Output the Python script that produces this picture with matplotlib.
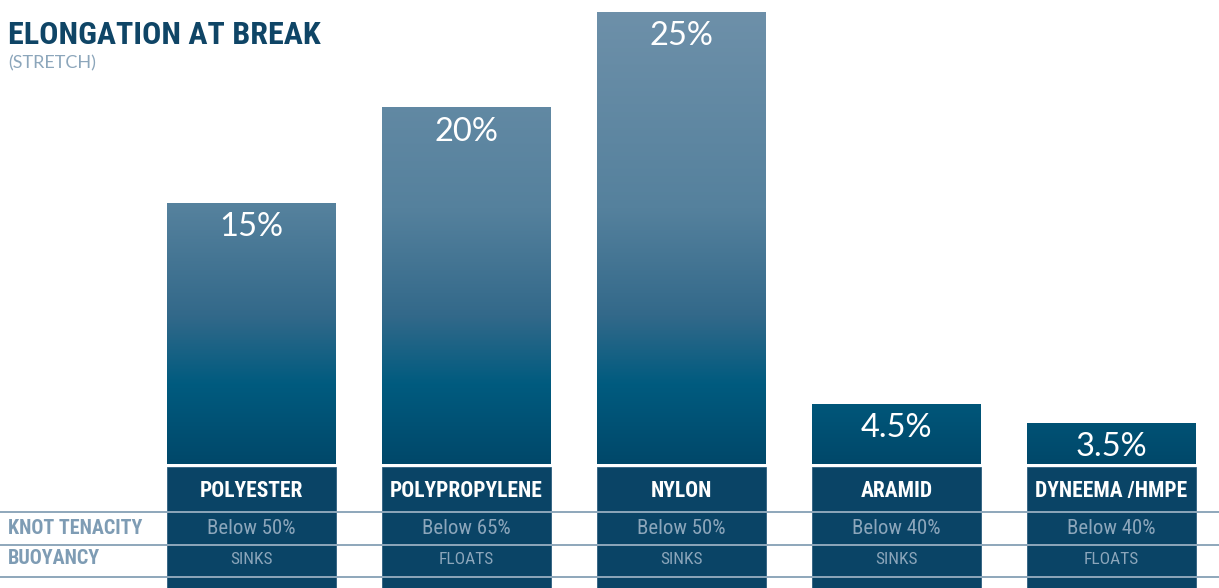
import matplotlib
matplotlib.use("Agg")
from matplotlib import pyplot as plt
from matplotlib.colors import LinearSegmentedColormap
import numpy as np

# data
materials = ['POLYESTER', 'POLYPROPYLENE', 'NYLON', 'ARAMID', 'DYNEEMA /HMPE']
elongation = [15, 20, 25, 4.5, 3.5]
value_labels = ['15%', '20%', '25%', '4.5%', '3.5%']
knot_tenacity = ['Below 50%', 'Below 65%', 'Below 50%', 'Below 40%', 'Below 40%']
buoyancy = ['SINKS', 'FLOATS', 'SINKS', 'SINKS', 'FLOATS']
row_names = ['KNOT TENACITY', 'BUOYANCY']

narrow = ['Liberation Sans Narrow', 'Roboto Condensed', 'DejaVu Sans']
light = ['Lato', 'DejaVu Sans']

title_color = '#0f4566'
pale = '#8ca6bb'
box_color = '#0a4466'
line_color = '#8ea7bb'

W, H = 1219, 588
fig = plt.figure(figsize=(W / 100, H / 100), dpi=100)

x = np.arange(len(materials))
pitch = 215.0
x0 = -251.5 / pitch
xlim = (x0, x0 + W / pitch)
bar_w = 169 / pitch

# main bar axes: bottom edge of bars at y=464px, top of figure at 0px
ax = fig.add_axes([0, (H - 464) / H, 1, 464 / H])
px_per_unit = 19.1
base = 1.335
ax.set_xlim(*xlim)
ax.set_ylim(base, base + 464 / px_per_unit)
ax.axis('off')

grad = LinearSegmentedColormap.from_list('g', [
    (0.0, '#00486a'),
    (0.17, '#005b7f'),
    (0.32, '#33698a'),
    (0.55, '#55819d'),
    (1.0, '#6f91aa'),
])
ylo, yhi = ax.get_ylim()
g = np.linspace(0, 1, 256).reshape(-1, 1)

bars = ax.bar(x, elongation, width=bar_w, color='none', edgecolor='none')
for b in bars:
    im = ax.imshow(g, cmap=grad, origin='lower', aspect='auto',
                   extent=(xlim[0], xlim[1], ylo, yhi), zorder=1)
    im.set_clip_path(b)
ax.set_xlim(*xlim)
ax.set_ylim(ylo, yhi)

for i, v in enumerate(elongation):
    ax.annotate(value_labels[i], (x[i], v), xytext=(0, -6.5), textcoords='offset points',
                ha='center', va='top', color='white', fontsize=23.5,
                family=light, zorder=3)

# table axes below bars (pixel units from y=467)
ax2 = fig.add_axes([0, 0, 1, (H - 467) / H])
ax2.set_xlim(*xlim)
ax2.set_ylim(121, 0)
ax2.axis('off')
ax2.bar(x, 121, bottom=0, width=bar_w, color=box_color, edgecolor='#2f5f7f', linewidth=0.6, zorder=1)
for yl in [45, 78, 110]:
    ax2.axhline(yl, color=line_color, lw=1.4, zorder=2)

for i in range(len(materials)):
    ax2.text(x[i], 24, materials[i], ha='center', va='center', color='white',
             fontsize=15.5, fontweight='bold', family=narrow, zorder=3)
    ax2.text(x[i], 61, knot_tenacity[i], ha='center', va='center', color=pale,
             fontsize=15, family=narrow, zorder=3)
    ax2.text(x[i], 92, buoyancy[i], ha='center', va='center', color=pale,
             fontsize=12.5, family=narrow, zorder=3)

tr = ax2.get_yaxis_transform()
for name, yy in zip(row_names, [61, 92]):
    ax2.text(8 / W, yy, name, transform=tr, ha='left', va='center', color='#7e9cb4',
             fontsize=14.5, fontweight='bold', family=narrow, zorder=3)

fig.text(8 / W, 1 - 44 / H, 'ELONGATION AT BREAK', ha='left', va='baseline',
         color=title_color, fontsize=23, fontweight='bold', family=narrow)
fig.text(8 / W, 1 - 68 / H, '(STRETCH)', ha='left', va='baseline',
         color=pale, fontsize=13, family=light)

fig.savefig('out.png', dpi=100)
